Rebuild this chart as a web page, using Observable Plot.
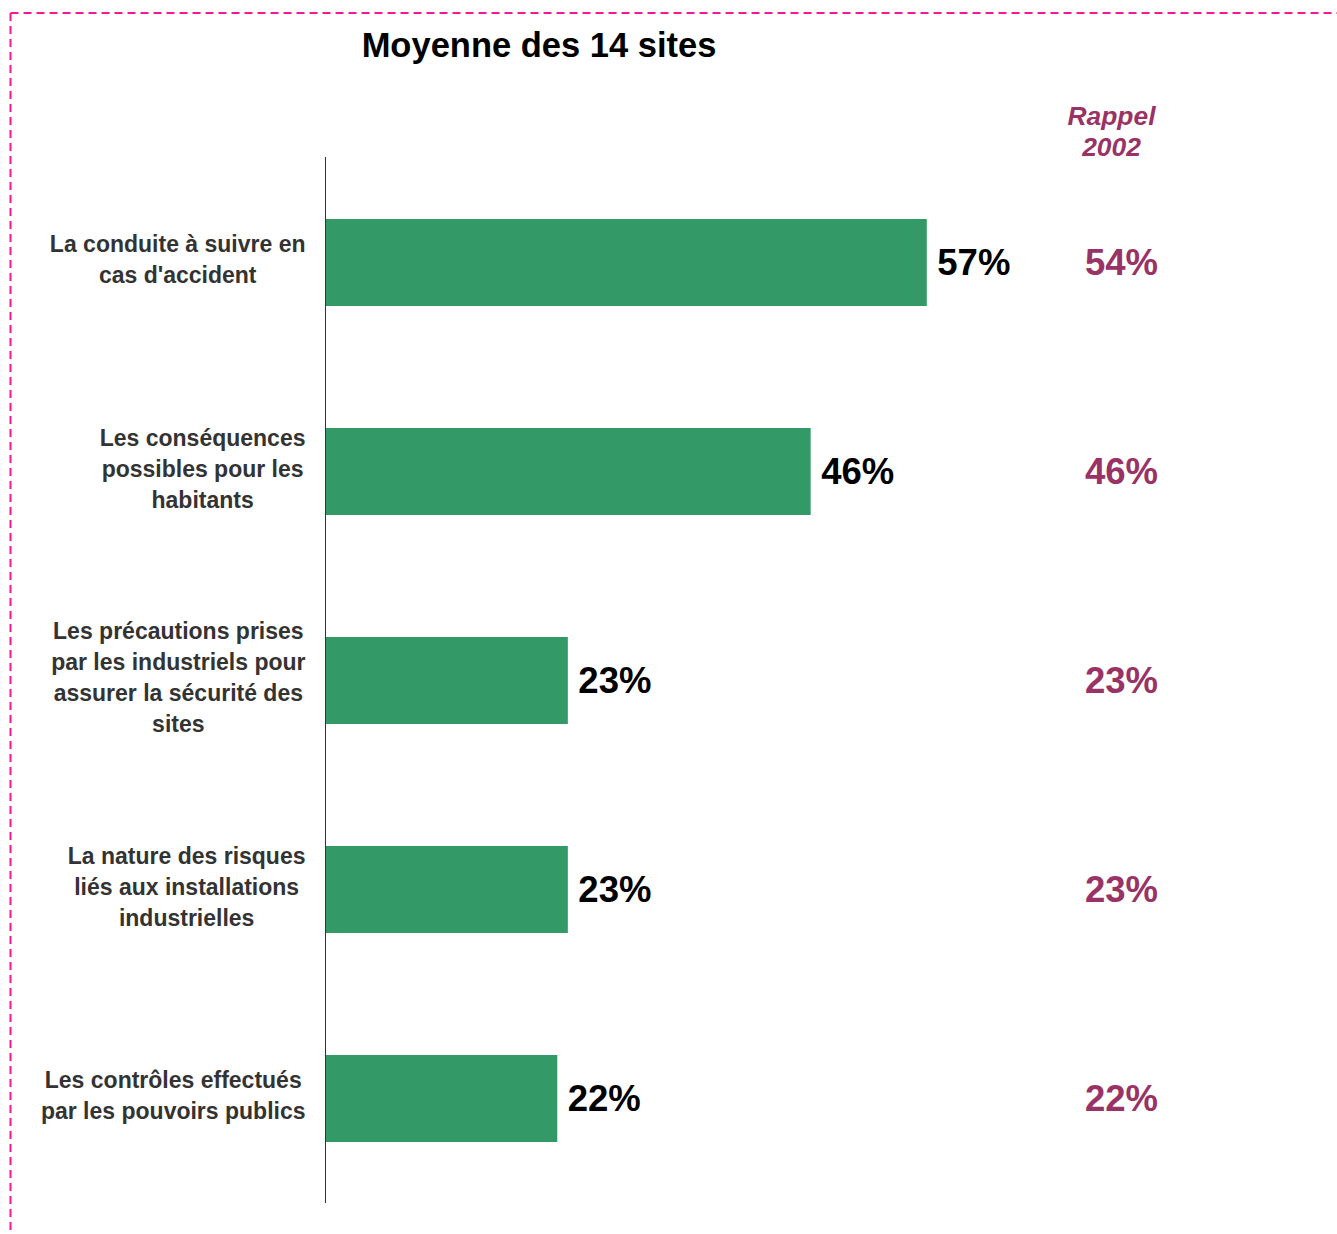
<!DOCTYPE html>
<html>
<head>
<meta charset="utf-8">
<script src="https://cdn.jsdelivr.net/npm/d3@7"></script>
<script src="https://cdn.jsdelivr.net/npm/@observablehq/plot@0.6"></script>
<style>
  html, body { margin: 0; padding: 0; background: #fff; }
  body { position: relative; width: 1337px; height: 1234px; overflow: hidden; font-family: "Liberation Sans", Arial, sans-serif; }
  #border { position: absolute; left: 0; top: 0; }
  #title { position: absolute; left: 0; top: 25px; width: 1078px; text-align: center; font-size: 34.5px; line-height: 40px; font-weight: bold; color: #000; }
  #chart { position: absolute; left: 0; top: 0; }
</style>
</head>
<body>
<svg id="border" width="1337" height="1234">
  <line x1="10.5" y1="13" x2="1337" y2="13" stroke="#FF1493" stroke-width="2" stroke-dasharray="8,5"/>
  <line x1="10.5" y1="13" x2="10.5" y2="1234" stroke="#FF1493" stroke-width="2" stroke-dasharray="8,5"/>
</svg>
<div id="title">Moyenne des 14 sites</div>
<div id="chart"></div>
<script>
const categories = [
  "La conduite à suivre en\ncas d'accident",
  "Les conséquences\npossibles pour les\nhabitants",
  "Les précautions prises\npar les industriels pour\nassurer la sécurité des\nsites",
  "La nature des risques\nliés aux installations\nindustrielles",
  "Les contrôles effectués\npar les pouvoirs publics"
];
const values2008 = [57, 46, 23, 23, 22];
const values2002 = [54, 46, 23, 23, 22];
const rappelHeader = "Rappel\n2002";

const data = categories.map((c, i) => ({cat: c, v: values2008[i], r: values2002[i]}));

const FONT = '"Liberation Sans", Arial, sans-serif';
const LABEL_SIZE = 23;
const ctx = document.createElement("canvas").getContext("2d");
ctx.font = `bold ${LABEL_SIZE}px "Liberation Sans", Arial, sans-serif`;
const maxWidth = c => Math.max(...c.split("\n").map(l => ctx.measureText(l).width));

const labelMarks = data.map(d => Plot.text([d], {
  x: () => 0,
  y: "cat",
  text: "cat",
  textAnchor: "middle",
  lineAnchor: "middle",
  lineHeight: 31 / LABEL_SIZE,
  dx: -(20 + maxWidth(d.cat) / 2),
  dy: -5,
  fontSize: LABEL_SIZE,
  fontWeight: "bold",
  fill: "#333333"
}));

const chart = Plot.plot({
  width: 1337,
  height: 1234,
  marginLeft: 325,
  marginRight: 9,
  marginTop: 157,
  marginBottom: 31,
  style: {fontFamily: FONT, background: "transparent", overflow: "visible"},
  x: {domain: [0, 95], axis: null},
  y: {domain: categories, paddingInner: 0.584, paddingOuter: 0.292, axis: null},
  marks: [
    Plot.barX(data, {x: "v", y: "cat", fill: "#339966"}),
    Plot.ruleX([0], {stroke: "#333333", strokeWidth: 1}),
    Plot.text(data, {x: "v", y: "cat", text: d => d.v + "%", textAnchor: "start", dx: 10, fontSize: 36.5, fontWeight: "bold", fill: "#000"}),
    Plot.text(data, {frameAnchor: "right", y: "cat", text: d => d.r + "%", textAnchor: "middle", dx: -207, fontSize: 36.5, fontWeight: "bold", fill: "#993366"}),
    Plot.text([rappelHeader], {frameAnchor: "top-right", text: d => d, textAnchor: "middle", lineAnchor: "bottom", lineHeight: 1.18, dx: -217, dy: -1.5, fontSize: 26.4, fontWeight: "bold", fontStyle: "italic", fill: "#993366"}),
    ...labelMarks
  ]
});
document.getElementById("chart").appendChild(chart);
</script>
</body>
</html>
